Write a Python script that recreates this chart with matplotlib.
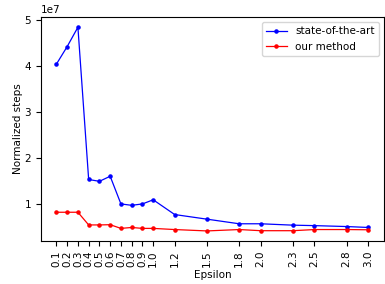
import matplotlib
matplotlib.use('Agg')
import matplotlib.pyplot as plt

eps = [0.1, 0.2, 0.3, 0.4, 0.5, 0.6, 0.7, 0.8, 0.9, 1.0, 1.2, 1.5, 1.8, 2.0, 2.3, 2.5, 2.8, 3.0]
sota = [4.04, 4.42, 4.84, 1.54, 1.50, 1.61, 1.01, 0.98, 1.01, 1.10, 0.78, 0.68, 0.58, 0.58, 0.55, 0.54, 0.52, 0.50]
ours = [0.83, 0.83, 0.83, 0.555, 0.555, 0.56, 0.48, 0.50, 0.48, 0.48, 0.455, 0.425, 0.455, 0.43, 0.43, 0.455, 0.455, 0.45]
sota = [v * 1e7 for v in sota]
ours = [v * 1e7 for v in ours]

fig = plt.figure(figsize=(3.85, 2.84), dpi=100)
ax = fig.add_axes([0.106, 0.151, 0.891, 0.789])
ax.plot(eps, sota, 'b.-', lw=0.9, ms=4.5, label='state-of-the-art')
ax.plot(eps, ours, 'r.-', lw=0.9, ms=4.5, label='our method')
ax.set_xticks(eps)
ax.set_xticklabels([str(e) for e in eps], rotation=90, fontsize=7.5)
ax.tick_params(axis='y', labelsize=7.5)
ax.yaxis.get_offset_text().set_fontsize(7.5)
ax.set_xlabel('Epsilon', fontsize=7.5, labelpad=2)
ax.set_ylabel('Normalized steps', fontsize=7.5, labelpad=1)
ax.legend(loc='upper right', fontsize=7.5)

plt.savefig('out.png', dpi=100)
